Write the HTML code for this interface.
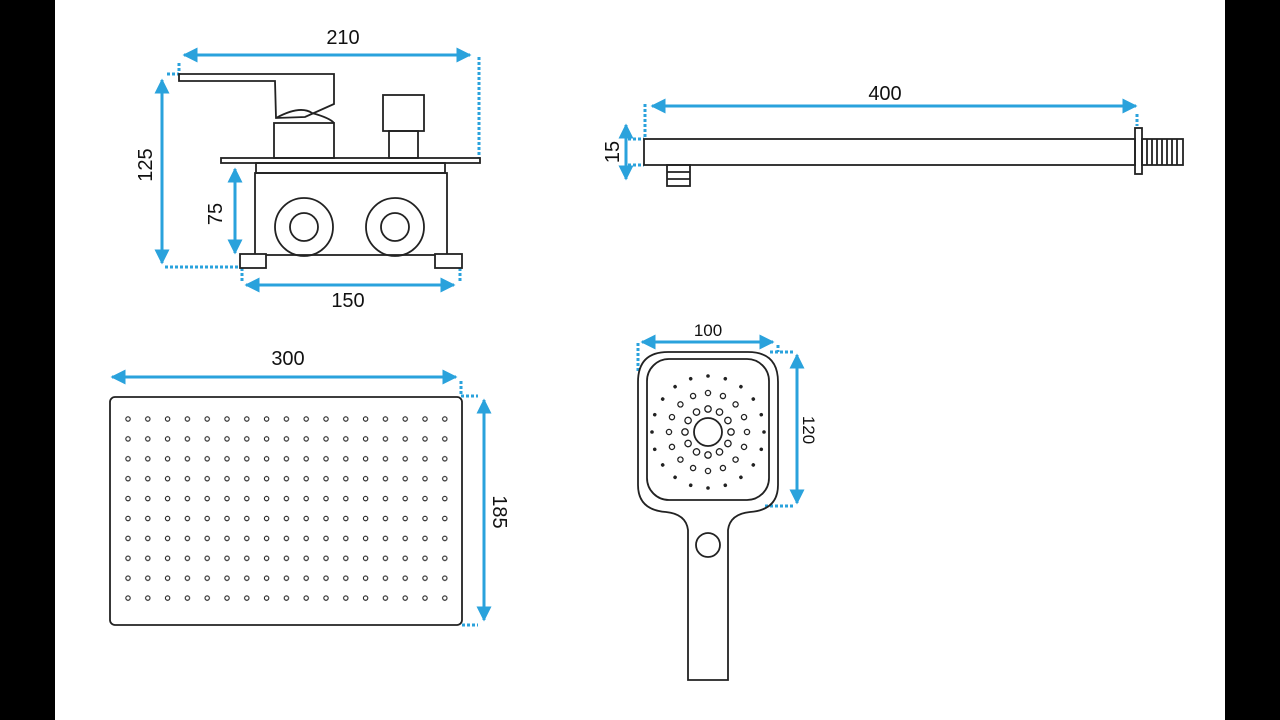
<!DOCTYPE html>
<html><head><meta charset="utf-8"><style>
html,body{margin:0;padding:0;background:#000}
svg{display:block}
text{font-family:"Liberation Sans",sans-serif;fill:#111}
</style></head><body>
<svg width="1280" height="720" viewBox="0 0 1280 720" xmlns="http://www.w3.org/2000/svg">
<defs>
<marker id="a" viewBox="0 0 10 10" refX="9" refY="5" markerWidth="5.5" markerHeight="5" orient="auto-start-reverse"><path d="M0,0L10,5L0,10z" fill="#2aa2dc"/></marker>
<pattern id="g" x="118" y="409" width="19.8" height="19.9" patternUnits="userSpaceOnUse"><circle cx="10" cy="10" r="2.2" fill="none" stroke="#222" stroke-width="1.1"/></pattern>
</defs>
<rect x="55" y="0" width="1170" height="720" fill="#fff"/>
<g fill="none" stroke="#2aa2dc" stroke-width="3">
<line x1="184" y1="55" x2="470" y2="55" marker-start="url(#a)" marker-end="url(#a)"/>
<line x1="162" y1="80" x2="162" y2="263" marker-start="url(#a)" marker-end="url(#a)"/>
<line x1="235" y1="169" x2="235" y2="253" marker-start="url(#a)" marker-end="url(#a)"/>
<line x1="246" y1="285" x2="454" y2="285" marker-start="url(#a)" marker-end="url(#a)"/>
<line x1="652" y1="106" x2="1136" y2="106" marker-start="url(#a)" marker-end="url(#a)"/>
<line x1="626" y1="125" x2="626" y2="179" marker-start="url(#a)" marker-end="url(#a)"/>
<line x1="112" y1="377" x2="456" y2="377" marker-start="url(#a)" marker-end="url(#a)"/>
<line x1="484" y1="400" x2="484" y2="620" marker-start="url(#a)" marker-end="url(#a)"/>
<line x1="642" y1="342" x2="773" y2="342" marker-start="url(#a)" marker-end="url(#a)"/>
<line x1="797" y1="355" x2="797" y2="503" marker-start="url(#a)" marker-end="url(#a)"/>
</g>
<g fill="none" stroke="#2aa2dc" stroke-width="3" stroke-dasharray="3 2">
<path d="M479,57V158 M179,63V74H165 M165,267H240 M242,268V283 M460,268V283"/>
<path d="M645,104V138 M1137,114V126 M628,139H644 M628,165H644"/>
<path d="M461,381V396H478 M462,625H478"/>
<path d="M638,343V372 M770,352H795 M765,506H795 M778,345V352"/>
</g>
<g fill="none" stroke="#222" stroke-width="1.8">
<polygon points="179,74 334,74 334,104 305,117 276,118 275,81 179,81" fill="#fff"/>
<path d="M276,118 Q300,105 312,113 Q330,118 334,123" />
<rect x="274" y="123" width="60" height="35"/>
<rect x="383" y="95" width="41" height="36"/>
<rect x="389" y="131" width="29" height="27"/>
<rect x="221" y="158" width="259" height="5"/>
<rect x="256" y="163" width="189" height="10"/>
<rect x="255" y="173" width="192" height="82"/>
<circle cx="304" cy="227" r="29"/><circle cx="304" cy="227" r="14"/>
<circle cx="395" cy="227" r="29"/><circle cx="395" cy="227" r="14"/>
<rect x="240" y="254" width="26" height="14" fill="#fff"/>
<rect x="435" y="254" width="27" height="14" fill="#fff"/>
<rect x="644" y="139" width="491" height="26"/>
<rect x="667" y="165" width="23" height="21"/>
<path d="M667,172H690M667,179H690"/>
<rect x="1135" y="128" width="7" height="46"/>
<rect x="1142" y="139" width="41" height="26"/>
<path d="M1147,139V165M1152,139V165M1157,139V165M1162,139V165M1167,139V165M1172,139V165M1177,139V165"/>
<rect x="110" y="397" width="352" height="228" rx="5"/>
<path d="M668,352H748Q778,352 778,382V485Q778,510 750,512Q730,514 728,530V680H688V530Q686,514 666,512Q638,510 638,485V382Q638,352 668,352Z"/>
<rect x="647" y="359" width="122" height="141" rx="22"/>
<circle cx="708" cy="545" r="12"/>
<circle cx="708" cy="432" r="14"/>
</g>
<rect x="118" y="409" width="336" height="200" fill="url(#g)"/>
<g fill="none" stroke="#222" stroke-width="1.3">
<g id="r1"><circle cx="708" cy="409" r="3.2"/><circle cx="708" cy="455" r="3.2"/><circle cx="685" cy="432" r="3.2"/><circle cx="731" cy="432" r="3.2"/></g>
<use href="#r1" transform="rotate(30 708 432)"/><use href="#r1" transform="rotate(60 708 432)"/>
<g id="r2"><circle cx="708" cy="393" r="2.6"/><circle cx="708" cy="471" r="2.6"/><circle cx="669" cy="432" r="2.6"/><circle cx="747" cy="432" r="2.6"/></g>
<use href="#r2" transform="rotate(22.5 708 432)"/><use href="#r2" transform="rotate(45 708 432)"/><use href="#r2" transform="rotate(67.5 708 432)"/>
</g>
<g fill="#222">
<g id="r3"><circle cx="708" cy="376" r="1.8"/><circle cx="708" cy="488" r="1.8"/><circle cx="652" cy="432" r="1.8"/><circle cx="764" cy="432" r="1.8"/></g>
<use href="#r3" transform="rotate(18 708 432)"/><use href="#r3" transform="rotate(36 708 432)"/><use href="#r3" transform="rotate(54 708 432)"/><use href="#r3" transform="rotate(72 708 432)"/>
</g>
<g font-size="20">
<text x="343" y="44" text-anchor="middle">210</text>
<text x="348" y="307" text-anchor="middle">150</text>
<text x="885" y="100" text-anchor="middle">400</text>
<text x="288" y="365" text-anchor="middle">300</text>
<text transform="translate(152,165) rotate(-90)" text-anchor="middle">125</text>
<text transform="translate(222,214) rotate(-90)" text-anchor="middle">75</text>
<text transform="translate(619,152) rotate(-90)" text-anchor="middle">15</text>
<text transform="translate(493,512) rotate(90)" text-anchor="middle">185</text>
</g>
<g font-size="17">
<text x="708" y="336" text-anchor="middle">100</text>
<text transform="translate(803,430) rotate(90)" text-anchor="middle">120</text>
</g>
</svg>
</body></html>
